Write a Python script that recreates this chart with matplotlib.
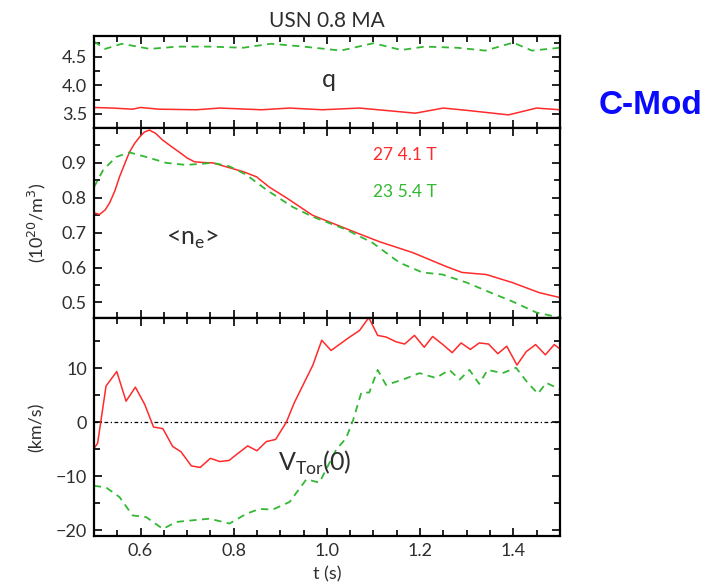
import matplotlib.pyplot as plt
from matplotlib.ticker import MultipleLocator, FixedLocator

plt.rcParams['font.family'] = ['Lato', 'DejaVu Sans']

RED = '#ff2a2a'
GREEN = '#33b833'
INK = '#2e2e2e'

# Safety factor q
t_q_27 = [0.5, 0.54, 0.583, 0.60, 0.64, 0.72, 0.77, 0.86, 0.92, 0.99, 1.07, 1.19, 1.25, 1.30, 1.39, 1.45, 1.5]
q_27 = [3.61, 3.60, 3.58, 3.61, 3.58, 3.57, 3.60, 3.57, 3.60, 3.57, 3.60, 3.51, 3.60, 3.56, 3.48, 3.60, 3.57]
t_q_23 = [0.5, 0.524, 0.56, 0.62, 0.68, 0.75, 0.82, 0.88, 0.95, 1.03, 1.10, 1.16, 1.21, 1.28, 1.34, 1.40, 1.44, 1.5]
q_23 = [4.77, 4.64, 4.73, 4.64, 4.68, 4.68, 4.66, 4.73, 4.68, 4.61, 4.74, 4.62, 4.68, 4.66, 4.61, 4.75, 4.61, 4.66]

# Line-averaged density <n_e> (10^20 m^-3)
t_ne_27 = [0.5, 0.512, 0.524, 0.534, 0.545, 0.555, 0.566, 0.576, 0.587, 0.598, 0.608, 0.619, 0.632,
           0.647, 0.665, 0.684, 0.70, 0.716, 0.735, 0.755, 0.791, 0.82,
           0.849, 0.877, 0.913, 0.969, 1.063, 1.113, 1.184, 1.256, 1.29, 1.342, 1.398, 1.456, 1.5]
ne_27 = [0.757, 0.752, 0.765, 0.786, 0.82, 0.86, 0.897, 0.93, 0.955, 0.974, 0.988, 0.994, 0.985,
         0.966, 0.948, 0.93, 0.914, 0.903, 0.901, 0.90, 0.886, 0.875,
         0.86, 0.83, 0.80, 0.75, 0.70, 0.674, 0.643, 0.603, 0.586, 0.58, 0.557, 0.528, 0.514]
t_ne_23 = [0.5, 0.52, 0.548, 0.576, 0.612, 0.655, 0.698, 0.755, 0.791, 0.827, 0.87, 0.926,
           0.969, 1.041, 1.098, 1.156, 1.205, 1.248, 1.30, 1.35, 1.398, 1.45, 1.5]
ne_23 = [0.83, 0.88, 0.917, 0.93, 0.917, 0.90, 0.894, 0.90, 0.89, 0.866, 0.823, 0.774,
         0.746, 0.709, 0.671, 0.614, 0.586, 0.58, 0.557, 0.529, 0.503, 0.471, 0.457]

# Core toroidal rotation V_Tor(0) (km/s)
t_v_27 = [0.5, 0.508, 0.526, 0.549, 0.569, 0.589, 0.609, 0.628, 0.648, 0.669, 0.687, 0.709,
          0.728, 0.75, 0.77, 0.79, 0.809, 0.83, 0.85, 0.87, 0.89, 0.913, 0.93, 0.97, 0.989,
          1.009, 1.049, 1.07, 1.09, 1.109, 1.127, 1.149, 1.167, 1.188, 1.209, 1.227, 1.249,
          1.269, 1.288, 1.308, 1.327, 1.347, 1.367, 1.386, 1.408, 1.428, 1.448, 1.469, 1.488, 1.5]
v_27 = [-4.9, -3.9, 6.7, 9.4, 3.9, 6.5, 3.3, -0.9, -1.2, -4.5, -5.5, -8.1,
        -8.4, -6.7, -7.3, -7.1, -5.8, -4.4, -5.3, -3.6, -3.2, 0.0, 3.6, 10.6, 15.2,
        13.3, 15.8, 17.0, 19.4, 16.1, 15.8, 14.9, 14.5, 16.1, 13.9, 15.9, 14.4,
        12.9, 14.7, 13.5, 14.7, 14.5, 12.7, 14.1, 10.6, 13.1, 14.4, 12.5, 14.4, 13.6]
t_v_23 = [0.5, 0.526, 0.555, 0.583, 0.612, 0.648, 0.677, 0.712, 0.748, 0.791, 0.827, 0.855,
          0.884, 0.92, 0.956, 0.984, 1.02, 1.041, 1.056, 1.074, 1.091, 1.109, 1.127, 1.163,
          1.199, 1.234, 1.263, 1.285, 1.306, 1.327, 1.345, 1.377, 1.406, 1.431, 1.453, 1.471, 1.5]
v_23 = [-11.8, -12.1, -13.9, -17.3, -17.6, -19.8, -18.5, -18.2, -17.9, -18.8, -17.0, -16.1,
        -16.2, -14.8, -10.6, -11.2, -5.1, -3.0, 0.3, 5.5, 5.5, 9.7, 6.9, 7.9,
        9.1, 8.2, 9.7, 7.9, 9.7, 7.1, 9.7, 9.1, 10.1, 7.3, 5.3, 7.3, 6.1]

q_ticks = [3.5, 4.0, 4.5]
ne_ticks = [0.5, 0.6, 0.7, 0.8, 0.9]
v_ticks = [-20, -10, 0, 10]

fig = plt.figure(figsize=(7.28, 5.87), dpi=100)
W, L = 0.640, 0.129
ax_q = fig.add_axes([L, 0.782, W, 0.157])
ax_n = fig.add_axes([L, 0.458, W, 0.324])
ax_v = fig.add_axes([L, 0.087, W, 0.371])

dash = (0, (4, 3))
ax_q.plot(t_q_27, q_27, color=RED, lw=1.1)
ax_q.plot(t_q_23, q_23, color=GREEN, lw=1.3, ls=dash)
ax_n.plot(t_ne_27, ne_27, color=RED, lw=1.1)
ax_n.plot(t_ne_23, ne_23, color=GREEN, lw=1.3, ls=dash)
ax_v.axhline(0, color='black', lw=0.9, ls=(0, (3, 2, 1, 2)))
ax_v.plot(t_v_27, v_27, color=RED, lw=1.1, clip_on=False)
ax_v.plot(t_v_23, v_23, color=GREEN, lw=1.3, ls=dash)

ax_q.set_ylim(3.25, 4.87)
ax_q.yaxis.set_major_locator(FixedLocator(q_ticks))
ax_q.yaxis.set_minor_locator(MultipleLocator(0.25))
ax_n.set_ylim(0.455, 1.0)
ax_n.yaxis.set_major_locator(FixedLocator(ne_ticks))
ax_n.yaxis.set_minor_locator(MultipleLocator(0.05))
ax_v.set_ylim(-21.1, 19.3)
ax_v.yaxis.set_major_locator(FixedLocator(v_ticks))
ax_v.yaxis.set_minor_locator(MultipleLocator(5))

for ax in (ax_q, ax_n, ax_v):
    ax.set_xlim(0.5, 1.5)
    ax.xaxis.set_major_locator(MultipleLocator(0.2))
    ax.xaxis.set_minor_locator(MultipleLocator(0.05))
    ax.tick_params(which='both', direction='in', top=True, right=True,
                   labelsize=13, labelcolor=INK, width=1.2, pad=5)
    ax.tick_params(which='major', length=6)
    ax.tick_params(which='minor', length=4)
    for s in ax.spines.values():
        s.set_linewidth(1.6)
    if ax is not ax_v:
        ax.tick_params(labelbottom=False)

ax_q.set_title('USN 0.8 MA', fontsize=15, color=INK, pad=6)
ax_q.text(1.005, 4.1, 'q', fontsize=18, color=INK, ha='center', va='center')

ax_n.set_ylabel('(10$^{20}$/m$^3$)', fontsize=13, color=INK, labelpad=10)
ax_n.text(0.655, 0.68, r'<n$_\mathregular{e}$>', fontsize=18, color=INK, va='center')
ax_n.text(1.10, 0.923, '27 4.1 T', fontsize=12.5, color=RED, va='center')
ax_n.text(1.10, 0.817, '23 5.4 T', fontsize=12.5, color=GREEN, va='center')

ax_v.set_ylabel('(km/s)', fontsize=13, color=INK, labelpad=8)
ax_v.set_xlabel('t (s)', fontsize=13, color=INK, labelpad=5)
ax_v.text(0.895, -7.6, r'V$_\mathregular{Tor}$(0)', fontsize=18, color=INK, va='center')

fig.text(0.893, 0.82, 'C-Mod', fontsize=24, fontweight='bold', color='#0a0aff',
         family='Liberation Sans', ha='center', va='center')

fig.savefig('out.png', dpi=100)
